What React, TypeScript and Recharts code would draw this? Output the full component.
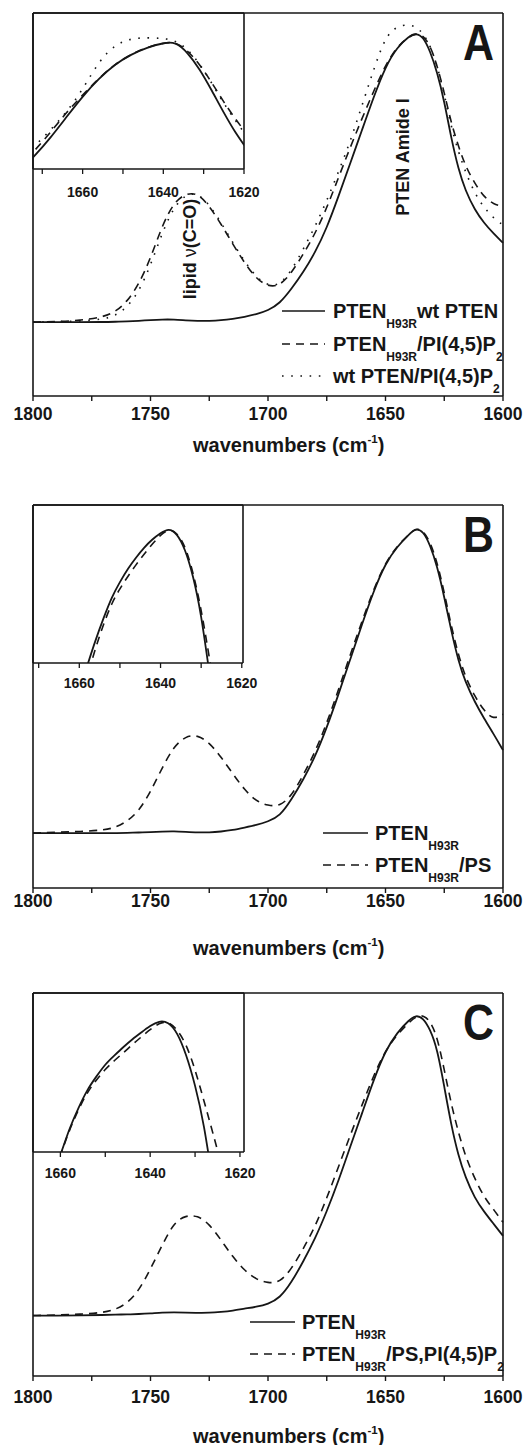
import React from 'react';
import { LineChart, Line, XAxis, YAxis, Customized } from 'recharts';

const FONT = '"Liberation Sans", Arial, Helvetica, sans-serif';
const INK = '#161616';

// wavenumber grid of the main spectra (cm-1), shared by panels A, B and C
const wavenumbers = [
  1800, 1790, 1780, 1770, 1765, 1760, 1755, 1750, 1745, 1740, 1735, 1730, 1725, 1720,
  1715, 1710, 1705, 1700, 1695, 1690, 1685, 1680, 1675, 1670, 1665, 1660, 1655, 1650,
  1645, 1640, 1637, 1634, 1631, 1628, 1625, 1622, 1619, 1616, 1612, 1608, 1604, 1600,
];

// panel A (normalised absorbance)
const aH93RWtPten = [
  0.0, 0.0, 0.0, 0.0, 0.001, 0.002, 0.004, 0.007, 0.009, 0.009, 0.006, 0.004, 0.004, 0.006,
  0.011, 0.018, 0.027, 0.04, 0.064, 0.115, 0.172, 0.24, 0.325, 0.435, 0.55, 0.665, 0.78, 0.885,
  0.952, 0.99, 1.0, 0.988, 0.938, 0.865, 0.765, 0.635, 0.53, 0.455, 0.388, 0.342, 0.306, 0.274,
];
const aH93RPip2 = [
  0.0, 0.002, 0.005, 0.018, 0.035, 0.07, 0.13, 0.22, 0.335, 0.415, 0.445, 0.447, 0.402, 0.34,
  0.27, 0.205, 0.15, 0.123, 0.125, 0.17, 0.235, 0.305, 0.395, 0.5, 0.605, 0.705, 0.8, 0.89,
  0.955, 0.988, 1.0, 0.993, 0.958, 0.888, 0.795, 0.688, 0.61, 0.54, 0.48, 0.432, 0.408, 0.4,
];
const aWtPip2 = [
  0.0, 0.001, 0.003, 0.01, 0.022, 0.05, 0.105, 0.195, 0.31, 0.4, 0.442, 0.447, 0.407, 0.345,
  0.275, 0.21, 0.155, 0.125, 0.128, 0.178, 0.252, 0.33, 0.42, 0.52, 0.625, 0.75, 0.875, 0.99,
  1.025, 1.03, 1.022, 1.0, 0.958, 0.888, 0.79, 0.675, 0.59, 0.52, 0.445, 0.395, 0.36, 0.336,
];

// panel B
const bH93R = [
  0.0, 0.0, 0.0, 0.0, 0.0, 0.001, 0.002, 0.003, 0.005, 0.006, 0.004, 0.002, 0.002, 0.005,
  0.01, 0.018, 0.026, 0.038, 0.055, 0.11, 0.175, 0.25, 0.345, 0.455, 0.57, 0.685, 0.795, 0.885,
  0.94, 0.98, 1.0, 0.99, 0.945, 0.875, 0.775, 0.662, 0.565, 0.495, 0.43, 0.375, 0.325, 0.272,
];
const bH93RPs = [
  0.0, 0.003, 0.005, 0.01, 0.018, 0.038, 0.072, 0.135, 0.215, 0.285, 0.318, 0.322, 0.297, 0.25,
  0.195, 0.142, 0.104, 0.09, 0.088, 0.122, 0.19, 0.265, 0.36, 0.47, 0.585, 0.695, 0.8, 0.888,
  0.942, 0.98, 1.0, 0.993, 0.955, 0.888, 0.79, 0.678, 0.585, 0.512, 0.448, 0.4, 0.372, 0.39,
];

// panel C
const cH93R = [
  0.0, 0.0, 0.0, 0.002, 0.003, 0.004, 0.005, 0.007, 0.01, 0.011, 0.01, 0.009, 0.009, 0.012,
  0.016, 0.023, 0.029, 0.038, 0.058, 0.11, 0.18, 0.255, 0.346, 0.448, 0.562, 0.672, 0.785, 0.882,
  0.942, 0.983, 1.0, 0.99, 0.952, 0.888, 0.762, 0.632, 0.532, 0.46, 0.39, 0.345, 0.305, 0.265,
];
const cH93RPsPip2 = [
  0.0, 0.002, 0.004, 0.01, 0.02, 0.04, 0.082, 0.155, 0.235, 0.31, 0.333, 0.333, 0.305, 0.252,
  0.195, 0.15, 0.12, 0.108, 0.11, 0.155, 0.222, 0.295, 0.39, 0.495, 0.6, 0.7, 0.8, 0.882,
  0.935, 0.975, 0.995, 1.0, 0.98, 0.928, 0.818, 0.702, 0.61, 0.53, 0.455, 0.393, 0.353, 0.31,
];

// insets: amide I maximum, rescaled
const insetAWavenumbers = [1674, 1672, 1668, 1664, 1660, 1656, 1652, 1648, 1644, 1640, 1637, 1634, 1631, 1628, 1625, 1622, 1620, 1618];
const insetAH93RWtPten = [0.635, 0.66, 0.715, 0.778, 0.84, 0.893, 0.936, 0.966, 0.987, 1.0, 1.004, 0.972, 0.922, 0.858, 0.79, 0.728, 0.695, 0.66];
const insetAH93RPip2 = [0.65, 0.676, 0.731, 0.792, 0.844, 0.894, 0.937, 0.966, 0.988, 1.0, 1.004, 0.978, 0.936, 0.882, 0.822, 0.77, 0.738, 0.705];
const insetAWtPip2 = [0.665, 0.69, 0.738, 0.792, 0.86, 0.945, 0.995, 1.014, 1.016, 1.014, 1.008, 0.982, 0.938, 0.88, 0.818, 0.765, 0.732, 0.7];

const insetBWavenumbers = [1662, 1660, 1658, 1656, 1654, 1652, 1650, 1648, 1646, 1644, 1642, 1640, 1638, 1636, 1634, 1632, 1630, 1628, 1626];
const insetBH93R = [0.45, 0.52, 0.597, 0.672, 0.738, 0.8, 0.845, 0.885, 0.918, 0.948, 0.972, 0.99, 1.005, 0.99, 0.945, 0.865, 0.75, 0.575, 0.4];
const insetBH93RPs = [0.42, 0.49, 0.565, 0.648, 0.72, 0.782, 0.825, 0.862, 0.897, 0.928, 0.958, 0.985, 1.003, 0.992, 0.955, 0.875, 0.765, 0.62, 0.47];

const insetCWavenumbers = [1664, 1662, 1660, 1658, 1656, 1654, 1652, 1650, 1648, 1646, 1644, 1642, 1640, 1638, 1636, 1634, 1632, 1630, 1628, 1626, 1624, 1622];
const insetCH93R = [0.44, 0.53, 0.605, 0.685, 0.745, 0.8, 0.838, 0.875, 0.9, 0.925, 0.948, 0.968, 0.988, 1.003, 1.0, 0.97, 0.905, 0.815, 0.698, 0.52, 0.35, 0.18];
const insetCH93RPsPip2 = [0.44, 0.53, 0.605, 0.68, 0.74, 0.792, 0.828, 0.86, 0.885, 0.908, 0.932, 0.955, 0.977, 0.996, 1.002, 0.978, 0.935, 0.86, 0.765, 0.67, 0.57, 0.45];

const mainTicks = [1800, 1775, 1750, 1725, 1700, 1675, 1650, 1625, 1600];
const insetTicks = [1670, 1660, 1650, 1640, 1630, 1620];

const DASH = '8 6';
const DOT = '1.6 7.6';

type Seg = { t: string; sub?: boolean };
type Series = { key: string; values: number[]; dash?: string; label: Seg[] };

const toRows = (ws: number[], series: Series[]) =>
  ws.map((w, i) => {
    const r: Record<string, number> = { w };
    series.forEach((s) => (r[s.key] = s.values[i]));
    return r;
  });

const SegText = ({ x, y, segs }: { x: number; y: number; segs: Seg[] }) => {
  let down = false;
  return (
    <text x={x} y={y} fontSize={20} fontWeight="bold" fill={INK} fontFamily={FONT}>
      {segs.map((s, i) => {
        const dy = s.sub ? (down ? 0 : 10) : down ? -10 : 0;
        down = !!s.sub;
        return (
          <tspan key={i} dy={dy} fontSize={s.sub ? 12 : 20}>
            {s.t}
          </tspan>
        );
      })}
    </text>
  );
};

const PTEN_H93R: Seg[] = [{ t: 'PTEN' }, { t: 'H93R', sub: true }];

const Decor = ({ p }: { p: any }) => (
  <g fontFamily={FONT}>
    <text x={494} y={60} textAnchor="end" fontSize={50} fontWeight="bold" fill={INK}
      textLength={31} lengthAdjust="spacingAndGlyphs">{p.letter}</text>
    <text x={193} y={p.titleY} fontSize={20} fontWeight="bold" fill={INK}>
      wavenumbers (cm<tspan dy={-9} fontSize={11.5}>-1</tspan><tspan dy={9} fontSize={20}>)</tspan>
    </text>
    {p.series.map((s: Series, i: number) => (
      <g key={s.key}>
        <line x1={p.legendLine[0]} x2={p.legendLine[1]} y1={p.legendRows[i]} y2={p.legendRows[i]}
          stroke={INK} strokeWidth={1.7} strokeDasharray={s.dash} />
        <SegText x={p.legendText} y={p.legendRows[i] + 7} segs={s.label} />
      </g>
    ))}
    {(p.notes || []).map((n: any, i: number) => (
      <text key={i} transform={`translate(${n.x},${n.y}) rotate(-90)`} textAnchor="middle" dy="0.36em"
        fontSize={18} fontWeight="bold" fill={INK}>
        {n.text}
      </text>
    ))}
  </g>
);

const makeTick = (dy: number, every: number, size: number) => (props: any) => {
  const { x, y, payload } = props;
  if (Math.round(payload.value) % every !== 0) return <g />;
  return (
    <text x={x} y={y + dy} textAnchor="middle" fontSize={size} fontWeight="bold" fill={INK} fontFamily={FONT}>
      {payload.value}
    </text>
  );
};

const frameLine = { stroke: INK, strokeWidth: 1.6 };

// top and right edges of the plot box (1px wide axes, no ticks)
const frameAxes = [
  <XAxis key="xt" xAxisId="top" orientation="top" type="number" domain={[0, 1]} height={1}
    tick={false} tickLine={false} axisLine={frameLine} />,
  <YAxis key="yr" yAxisId="right" orientation="right" type="number" domain={[0, 1]} width={1}
    tick={false} tickLine={false} axisLine={frameLine} />,
];

const renderLines = (series: Series[]) =>
  series.map((s) => (
    <Line key={s.key} type="basis" dataKey={s.key} stroke={INK} strokeWidth={s.dash ? 1.6 : 1.8}
      strokeDasharray={s.dash} dot={false} activeDot={false} isAnimationActive={false} />
  ));

function Panel({ p }: { p: any }) {
  const rows = toRows(wavenumbers, p.series);
  const insetRows = toRows(p.inset.ws, p.inset.series);
  const [lo, hi] = p.inset.xDomain;
  const ticksIn = insetTicks.filter((t) => t >= lo && t <= hi);
  return (
    <div style={{ position: 'absolute', left: 0, top: p.top, width: 528, height: 480 }}>
      <LineChart width={528} height={470} data={rows} margin={{ top: 12, right: 24, bottom: 44, left: 32 }}>
        <XAxis dataKey="w" type="number" domain={[1600, 1800]} reversed ticks={mainTicks} interval={0}
          tickSize={5} height={30} tickLine={{ stroke: INK, strokeWidth: 1.4 }}
          axisLine={frameLine} tick={makeTick(p.tickDy, 50, 17.5)} />
        <YAxis type="number" domain={p.yDomain} allowDataOverflow width={1} tick={false} tickLine={false}
          axisLine={frameLine} />
        {frameAxes}
        {renderLines(p.series)}
        <Customized component={<Decor p={p} />} />
      </LineChart>
      <div style={{ position: 'absolute', left: 0, top: 0 }}>
        <LineChart width={260} height={210} data={insetRows}
          margin={{ top: 12, right: 260 - p.inset.right - 1, bottom: 210 - 25 - p.inset.bottom, left: 32 }}>
          <XAxis dataKey="w" type="number" domain={p.inset.xDomain} reversed allowDataOverflow ticks={ticksIn}
            interval={0} tickSize={5} height={25} tickLine={{ stroke: INK, strokeWidth: 1.3 }}
            axisLine={frameLine} tick={makeTick(p.inset.tickDy, 20, 14)} />
          <YAxis type="number" domain={p.inset.yDomain} allowDataOverflow width={1} tick={false} tickLine={false}
            axisLine={frameLine} />
          {frameAxes}
          {renderLines(p.inset.series)}
        </LineChart>
      </div>
    </div>
  );
}

const panels = [
  {
    letter: 'A', top: 0, yDomain: [-0.256, 1.07], tickDy: 17, titleY: 452,
    legendLine: [282, 325], legendText: 333, legendRows: [311, 344, 376],
    series: [
      { key: 'h93rWt', values: aH93RWtPten, label: [...PTEN_H93R, { t: 'wt PTEN' }] },
      { key: 'h93rPip2', values: aH93RPip2, dash: DASH, label: [...PTEN_H93R, { t: '/PI(4,5)P' }, { t: '2', sub: true }] },
      { key: 'wtPip2', values: aWtPip2, dash: DOT, label: [{ t: 'wt PTEN/PI(4,5)P' }, { t: '2', sub: true }] },
    ],
    notes: [
      { x: 403, y: 157, text: 'PTEN Amide I' },
      { x: 190, y: 249, text: <>lipid <tspan fontWeight="normal">ν</tspan>(C=O)</> },
    ],
    inset: {
      ws: insetAWavenumbers, xDomain: [1620, 1672.3], yDomain: [0.622, 1.09], right: 244, bottom: 169, tickDy: 21,
      series: [
        { key: 'h93rWt', values: insetAH93RWtPten, label: [] },
        { key: 'h93rPip2', values: insetAH93RPip2, dash: DASH, label: [] },
        { key: 'wtPip2', values: insetAWtPip2, dash: DOT, label: [] },
      ],
    },
  },
  {
    letter: 'B', top: 492, yDomain: [-0.18, 1.076], tickDy: 12, titleY: 463,
    legendLine: [323, 368], legendText: 375, legendRows: [341, 373],
    series: [
      { key: 'h93r', values: bH93R, label: PTEN_H93R },
      { key: 'h93rPs', values: bH93RPs, dash: DASH, label: [...PTEN_H93R, { t: '/PS' }] },
    ],
    inset: {
      ws: insetBWavenumbers, xDomain: [1619.7, 1671.4], yDomain: [0.603, 1.074], right: 243, bottom: 171, tickDy: 18,
      series: [
        { key: 'h93r', values: insetBH93R, label: [] },
        { key: 'h93rPs', values: insetBH93RPs, dash: DASH, label: [] },
      ],
    },
  },
  {
    letter: 'C', top: 980, yDomain: [-0.201, 1.073], tickDy: 20, titleY: 463,
    legendLine: [250, 295], legendText: 302, legendRows: [342, 374],
    series: [
      { key: 'h93r', values: cH93R, label: PTEN_H93R },
      { key: 'h93rPsPip2', values: cH93RPsPip2, dash: DASH, label: [...PTEN_H93R, { t: '/PS,PI(4,5)P' }, { t: '2', sub: true }] },
    ],
    inset: {
      ws: insetCWavenumbers, xDomain: [1619.1, 1666.1], yDomain: [0.615, 1.085], right: 244, bottom: 172, tickDy: 19,
      series: [
        { key: 'h93r', values: insetCH93R, label: [] },
        { key: 'h93rPsPip2', values: insetCH93RPsPip2, dash: DASH, label: [] },
      ],
    },
  },
];

export default function App() {
  return (
    <div style={{ position: 'absolute', left: 0, top: 0, width: 528, height: 1445, background: '#fff' }}>
      {panels.map((p) => (
        <Panel key={p.letter} p={p} />
      ))}
    </div>
  );
}
